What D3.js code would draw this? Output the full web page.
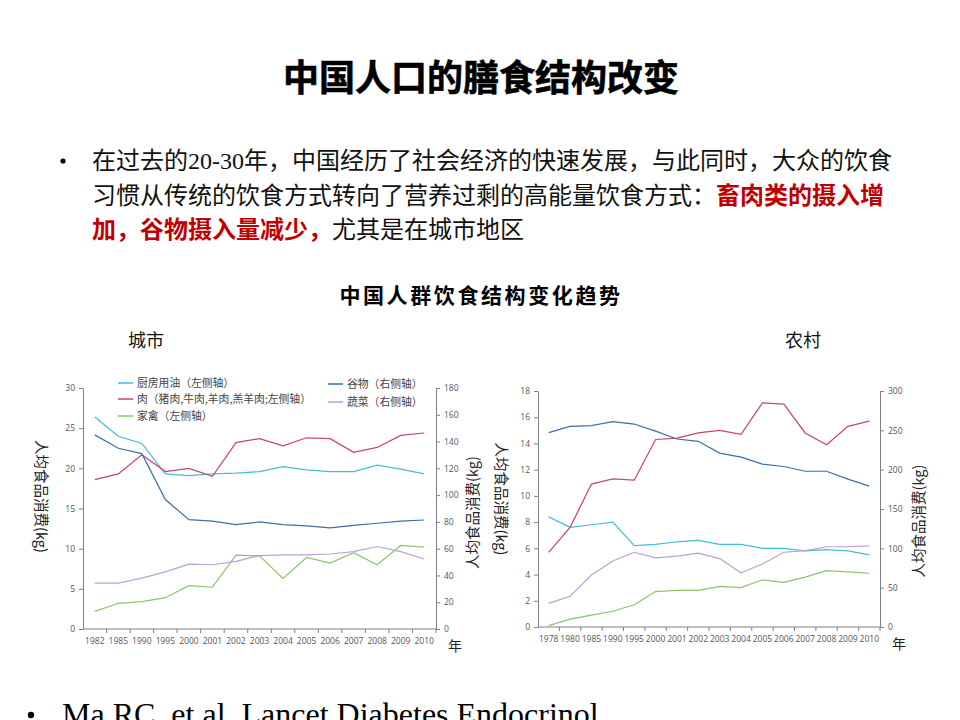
<!DOCTYPE html>
<html lang="zh">
<head>
<meta charset="utf-8">
<title>中国人口的膳食结构改变</title>
<script src="https://cdn.jsdelivr.net/npm/d3@7"></script>
<style>
    body { margin: 0; background: #fff; }
    svg { display: block; }
    .cjk { font-family: "Noto Sans CJK SC", sans-serif; }
    .axis path, .axis line { stroke: #808080; }
    .axis text { font-family: "Open Sans", "DejaVu Sans", sans-serif; font-size: 8.5px; fill: #555; }
    .series { fill: none; stroke-width: 1.2px; }
    .legend text { font-family: "Noto Sans CJK SC", sans-serif; font-size: 10.8px; fill: #444; }
</style>
</head>
<body>
<div id="slide"></div>
<script>
// ---- data ----
const seriesNames = ['厨房用油（左侧轴）', '肉（猪肉,牛肉,羊肉,羔羊肉;左侧轴）', '家禽（左侧轴）', '谷物（右侧轴）', '蔬菜（右侧轴）'];
const seriesColors = ['#45bcd8', '#c9436d', '#8dc46b', '#3c6ea8', '#b8a2d3'];

const urbanYears = ['1982','1985','1990','1995','2000','2001','2002','2003','2004','2005','2006','2007','2008','2009','2010'];
const urbanOil     = [26.4, 24.0, 23.1, 19.3, 19.1, 19.3, 19.4, 19.6, 20.2, 19.8, 19.6, 19.6, 20.4, 19.9, 19.3];
const urbanMeat    = [18.6, 19.3, 21.7, 19.6, 20.0, 19.0, 23.2, 23.7, 22.8, 23.8, 23.7, 22.0, 22.6, 24.1, 24.4];
const urbanPoultry = [2.2, 3.2, 3.4, 3.9, 5.4, 5.2, 9.2, 9.1, 6.3, 8.9, 8.2, 9.5, 8.0, 10.4, 10.2];
const urbanGrain   = [145, 135, 131, 96.7, 81.7, 80.6, 78, 80, 78, 77, 75.6, 77.4, 79, 80.6, 81.4];
const urbanVeg     = [34.2, 34.2, 38, 42.7, 48.5, 48, 50.5, 54.8, 55.3, 55.3, 56, 57.8, 61.6, 57.8, 52.3];

const ruralYears = ['1978','1980','1985','1990','1995','2000','2001','2002','2003','2004','2005','2006','2007','2008','2009','2010'];
const ruralOil     = [8.4, 7.6, 7.8, 8.0, 6.2, 6.3, 6.5, 6.6, 6.3, 6.3, 6.0, 6.0, 5.8, 5.9, 5.8, 5.5];
const ruralMeat    = [5.7, 7.6, 10.9, 11.3, 11.2, 14.3, 14.4, 14.8, 15.0, 14.7, 17.1, 17.0, 14.8, 13.9, 15.3, 15.7];
const ruralPoultry = [0.1, 0.6, 0.9, 1.2, 1.7, 2.7, 2.8, 2.8, 3.1, 3.0, 3.6, 3.4, 3.8, 4.3, 4.2, 4.1];
const ruralGrain   = [247, 255, 256, 261, 258, 249, 239, 236, 221, 216, 207, 204, 198, 198, 188, 179];
const ruralVeg     = [30, 39, 66, 84, 95, 88, 90, 94, 87, 69, 80, 95, 97, 102, 102, 103];

const urbanLeftTicks = [0, 5, 10, 15, 20, 25, 30];
const urbanRightTicks = [0, 20, 40, 60, 80, 100, 120, 140, 160, 180];
const ruralLeftTicks = [0, 2, 4, 6, 8, 10, 12, 14, 16, 18];
const ruralRightTicks = [0, 50, 100, 150, 200, 250, 300];

const yLabel = '人均食品消费(kg)';

// ---- slide ----
const svg = d3.select('#slide').append('svg')
    .attr('width', 960)
    .attr('height', 720);

svg.append('text')
    .attr('class', 'cjk')
    .attr('x', 481).attr('y', 91)
    .attr('text-anchor', 'middle')
    .attr('font-size', 36).attr('font-weight', 'bold')
    .attr('fill', '#000')
    .attr('stroke', '#000').attr('stroke-width', 0.6)
    .text('中国人口的膳食结构改变');

// bullet paragraph
svg.append('circle').attr('cx', 63).attr('cy', 161).attr('r', 2.6).attr('fill', '#000');

const para = [
    [{t: '在过去的', red: false}, {t: '20-30', red: false, serif: true}, {t: '年，中国经历了社会经济的快速发展，与此同时，大众的饮食', red: false}],
    [{t: '习惯从传统的饮食方式转向了营养过剩的高能量饮食方式：', red: false}, {t: '畜肉类的摄入增', red: true}],
    [{t: '加，谷物摄入量减少，', red: true}, {t: '尤其是在城市地区', red: false}]
];
para.forEach((line, i) => {
    const t = svg.append('text')
        .attr('class', 'cjk')
        .attr('x', 92).attr('y', 169 + i * 34.5)
        .attr('font-size', 24);
    line.forEach(seg => {
        t.append('tspan')
            .attr('fill', seg.red ? '#c00000' : '#111')
            .attr('font-weight', seg.red ? 'bold' : 'normal')
            .style('font-family', seg.serif ? '"Liberation Serif", serif' : null)
            .text(seg.t);
    });
});

svg.append('text')
    .attr('class', 'cjk')
    .attr('x', 481).attr('y', 303)
    .attr('text-anchor', 'middle')
    .attr('font-size', 21).attr('font-weight', 'bold')
    .attr('letter-spacing', 2.6)
    .text('中国人群饮食结构变化趋势');

svg.append('text').attr('class', 'cjk')
    .attr('x', 128).attr('y', 347).attr('font-size', 18).attr('fill', '#111')
    .text('城市');
svg.append('text').attr('class', 'cjk')
    .attr('x', 785).attr('y', 347).attr('font-size', 18).attr('fill', '#111')
    .text('农村');

// ---- one chart panel ----
function drawPanel(cfg) {
    const g = svg.append('g');

    const x = d3.scaleBand()
        .domain(cfg.years)
        .range([cfg.left, cfg.right])
        .paddingInner(0).paddingOuter(0);
    const yL = d3.scaleLinear().domain(d3.extent(cfg.leftTicks)).range([cfg.bottom, cfg.top]);
    const yR = d3.scaleLinear().domain(d3.extent(cfg.rightTicks)).range([cfg.bottom, cfg.top]);

    // x axis: labels centred in bands, tick marks at band edges
    const xAxis = g.append('g')
        .attr('class', 'axis')
        .attr('transform', `translate(0, ${cfg.bottom})`)
        .call(d3.axisBottom(x).tickSize(0).tickPadding(9));
    xAxis.select('.domain').attr('d', `M${cfg.left},0H${cfg.right}`);
    xAxis.selectAll('.edge')
        .data(cfg.years)
        .join('line')
            .attr('class', 'edge')
            .attr('x1', d => x(d) + x.bandwidth())
            .attr('x2', d => x(d) + x.bandwidth())
            .attr('y1', 0).attr('y2', 4);

    g.append('g')
        .attr('class', 'axis')
        .attr('transform', `translate(${cfg.left}, 0)`)
        .call(d3.axisLeft(yL).tickValues(cfg.leftTicks).tickSize(4).tickSizeOuter(0).tickPadding(4));

    g.append('g')
        .attr('class', 'axis')
        .attr('transform', `translate(${cfg.right}, 0)`)
        .call(d3.axisRight(yR).tickValues(cfg.rightTicks).tickSize(4).tickSizeOuter(0).tickPadding(4));

    // series
    cfg.series.forEach((s, i) => {
        const y = s.axis === 'left' ? yL : yR;
        const line = d3.line()
            .x((d, j) => x(cfg.years[j]) + x.bandwidth() / 2)
            .y(d => y(d));
        g.append('path')
            .attr('class', 'series')
            .attr('stroke', seriesColors[i])
            .attr('d', line(s.values));
    });

    // axis titles
    const yMid = (cfg.top + cfg.bottom) / 2;
    g.append('text').attr('class', 'cjk')
        .attr('font-size', 14.5).attr('fill', '#222')
        .attr('text-anchor', 'middle')
        .attr('transform', `translate(${cfg.leftLabelX}, ${yMid + cfg.leftLabelDy}) rotate(90)`)
        .text(yLabel);
    g.append('text').attr('class', 'cjk')
        .attr('font-size', 14.5).attr('fill', '#222')
        .attr('text-anchor', 'middle')
        .attr('transform', `translate(${cfg.rightLabelX}, ${yMid + cfg.rightLabelDy}) rotate(-90)`)
        .text(yLabel);
    g.append('text').attr('class', 'cjk')
        .attr('x', cfg.right + 12).attr('y', cfg.bottom + 22)
        .attr('font-size', 14).attr('fill', '#222')
        .text('年');

    return g;
}

const urban = drawPanel({
    years: urbanYears,
    left: 83, right: 436, top: 388, bottom: 629,
    leftTicks: urbanLeftTicks, rightTicks: urbanRightTicks,
    leftLabelX: 36, leftLabelDy: -12,
    rightLabelX: 478, rightLabelDy: 4,
    series: [
        {values: urbanOil, axis: 'left'},
        {values: urbanMeat, axis: 'left'},
        {values: urbanPoultry, axis: 'left'},
        {values: urbanGrain, axis: 'right'},
        {values: urbanVeg, axis: 'right'}
    ]
});

drawPanel({
    years: ruralYears,
    left: 538, right: 880, top: 391, bottom: 627,
    leftLabelX: 496, leftLabelDy: -10,
    leftTicks: ruralLeftTicks, rightTicks: ruralRightTicks,
    rightLabelX: 924, rightLabelDy: 12,
    series: [
        {values: ruralOil, axis: 'left'},
        {values: ruralMeat, axis: 'left'},
        {values: ruralPoultry, axis: 'left'},
        {values: ruralGrain, axis: 'right'},
        {values: ruralVeg, axis: 'right'}
    ]
});

// legend (urban panel only)
const legendPos = [
    {x: 118, y: 383}, {x: 118, y: 399}, {x: 118, y: 416},
    {x: 328, y: 384}, {x: 328, y: 402}
];
const legend = urban.append('g').attr('class', 'legend');
const items = legend.selectAll('g')
    .data(seriesNames)
    .join('g')
        .attr('transform', (d, i) => `translate(${legendPos[i].x}, ${legendPos[i].y})`);
items.append('line')
    .attr('x1', 0).attr('x2', 15)
    .attr('stroke', (d, i) => seriesColors[i])
    .attr('stroke-width', 1.5);
items.append('text')
    .attr('x', 19).attr('y', 3.8)
    .text(d => d);

// reference line at the bottom (cut off by the slide edge, as on the slide)
svg.append('circle').attr('cx', 31).attr('cy', 715).attr('r', 3.2).attr('fill', '#000');
svg.append('text')
    .attr('x', 62).attr('y', 725)
    .attr('font-family', '"Liberation Serif", serif')
    .attr('font-size', 32)
    .attr('fill', '#000')
    .text('Ma RC, et al. Lancet Diabetes Endocrinol.');
</script>
</body>
</html>
